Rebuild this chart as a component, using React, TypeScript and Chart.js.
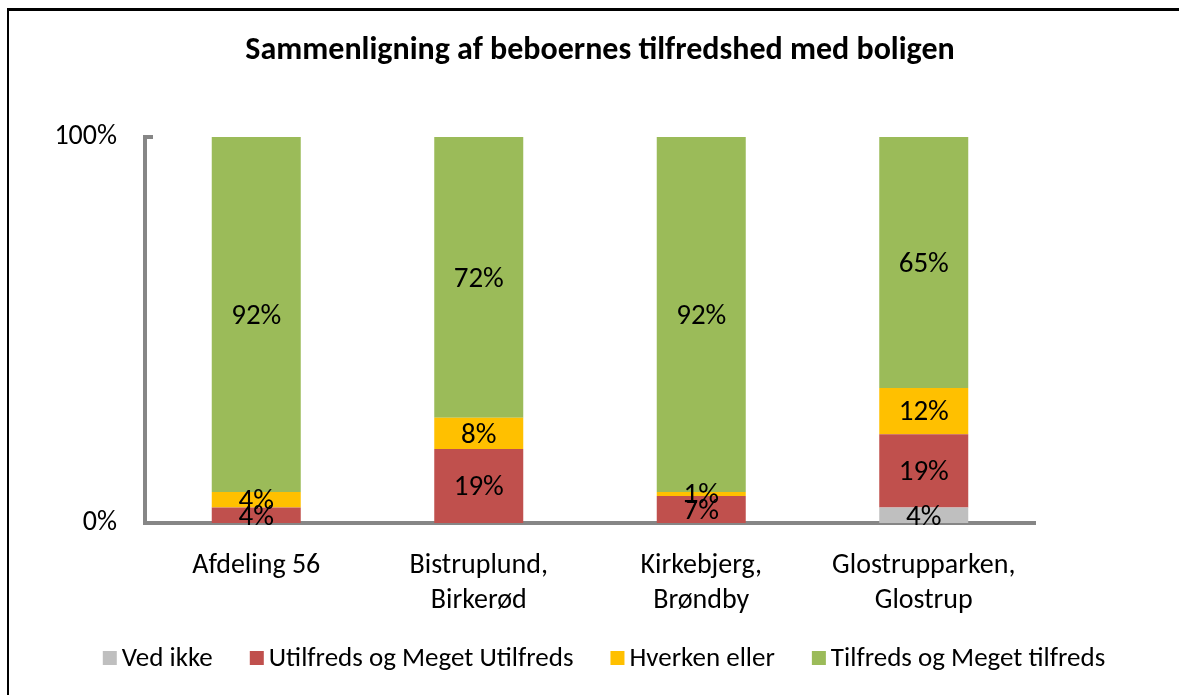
import React, { useEffect, useRef } from "react";
import { Chart, registerables } from "chart.js";

Chart.register(...registerables);

const categories: string[][] = [
  ["Afdeling 56"],
  ["Bistruplund,", "Birkerød"],
  ["Kirkebjerg,", "Brøndby"],
  ["Glostrupparken,", "Glostrup"],
];
const seriesNames = [
  "Ved ikke",
  "Utilfreds og Meget Utilfreds",
  "Hverken eller",
  "Tilfreds og Meget tilfreds",
];
const vedIkke = [0, 0, 0, 4];
const utilfreds = [4, 19, 7, 19];
const hverken = [4, 8, 1, 12];
const tilfreds = [92, 72, 92, 65];
const yTicks = [0, 100];
const titleText = "Sammenligning af beboernes tilfredshed med boligen";

const seriesColors = ["#BFBFBF", "#C0504D", "#FFC000", "#9BBB59"];
const FONT = "Carlito, Lato, 'Open Sans', sans-serif";
const W = 1179;
const H = 695;

const rawSeries = [vedIkke, utilfreds, hverken, tilfreds];
const totals = categories.map((_, j) =>
  rawSeries.reduce((s, arr) => s + arr[j], 0)
);

const decor = {
  id: "decor",
  beforeDraw(chart: any) {
    const ctx = chart.ctx;
    ctx.save();
    ctx.fillStyle = "#ffffff";
    ctx.fillRect(0, 0, W, H);
    ctx.restore();
  },
  afterDraw(chart: any) {
    const ctx = chart.ctx;
    ctx.save();
    // frame
    ctx.fillStyle = "#000000";
    ctx.fillRect(7, 8, W - 7, 3);
    ctx.fillRect(7, 8, 2, H - 8);

    // title
    ctx.font = `bold 32px ${FONT}`;
    ctx.textAlign = "center";
    ctx.textBaseline = "middle";
    ctx.fillStyle = "#000000";
    ctx.fillText(titleText, 600, 51);

    // inward tick mark at top of y axis
    const yScale = chart.scales.y;
    const area = chart.chartArea;
    ctx.fillStyle = "#868686";
    const yt = yScale.getPixelForValue(100);
    ctx.fillRect(area.left - 2, yt - 2, 10, 4);

    // data labels
    ctx.font = `29px ${FONT}`;
    ctx.fillStyle = "#000000";
    ctx.textAlign = "center";
    ctx.textBaseline = "middle";
    rawSeries.forEach((arr, i) => {
      const meta = chart.getDatasetMeta(i);
      meta.data.forEach((bar: any, j: number) => {
        const raw = arr[j];
        if (!raw) return;
        const p = bar.getProps(["x", "y", "base"], true);
        ctx.fillText(raw + "%", p.x, (p.y + p.base) / 2 + 2);
      });
    });

    // legend
    ctx.font = `27px ${FONT}`;
    const box = 14;
    const boxGap = 5;
    const itemGap = 37;
    const widths = seriesNames.map((n) => ctx.measureText(n).width);
    const total =
      widths.reduce((s, w) => s + w + box + boxGap, 0) +
      itemGap * (seriesNames.length - 1);
    let x = 604 - total / 2;
    const ly = 658;
    ctx.textAlign = "left";
    ctx.textBaseline = "middle";
    seriesNames.forEach((n, i) => {
      ctx.fillStyle = seriesColors[i];
      ctx.fillRect(x, ly - box / 2, box, box);
      ctx.fillStyle = "#000000";
      ctx.fillText(n, x + box + boxGap, ly + 1);
      x += box + boxGap + widths[i] + itemGap;
    });
    ctx.restore();
  },
};

export default function App() {
  const ref = useRef<HTMLCanvasElement | null>(null);
  useEffect(() => {
    if (!ref.current) return;
    const chart = new Chart(ref.current, {
      type: "bar",
      data: {
        labels: categories,
        datasets: rawSeries.map((arr, i) => ({
          label: seriesNames[i],
          data: arr.map((v, j) => (v / totals[j]) * 100),
          backgroundColor: seriesColors[i],
          borderWidth: 0,
          barPercentage: 0.4,
          categoryPercentage: 1,
        })),
      },
      options: {
        responsive: false,
        animation: false,
        devicePixelRatio: 1,
        layout: { padding: { top: 137, right: 144, left: 0, bottom: 0 } },
        plugins: {
          legend: { display: false },
          title: { display: false },
          tooltip: { enabled: false },
        },
        scales: {
          x: {
            stacked: true,
            grid: { display: false, drawTicks: false },
            border: { display: true, color: "#868686", width: 4 },
            ticks: {
              color: "#000000",
              font: { family: FONT, size: 28, lineHeight: 1.25 },
              padding: 25,
              maxRotation: 0,
              autoSkip: false,
            },
            afterFit: (scale: any) => {
              scale.height = 172;
            },
          },
          y: {
            stacked: true,
            min: 0,
            max: 100,
            afterBuildTicks: (scale: any) => {
              scale.ticks = yTicks.map((v) => ({ value: v }));
            },
            grid: { display: false, drawTicks: false },
            border: { display: true, color: "#868686", width: 4 },
            ticks: {
              color: "#000000",
              font: { family: FONT, size: 28 },
              padding: 28,
              callback: (v: any) => v + "%",
            },
            afterFit: (scale: any) => {
              scale.width = 145;
            },
          },
        },
      },
      plugins: [decor],
    });
    return () => chart.destroy();
  }, []);
  return (
    <div style={{ position: "absolute", left: 0, top: 0, width: W, height: H, background: "#fff" }}>
      <canvas ref={ref} width={W} height={H} style={{ display: "block", width: W, height: H }} />
    </div>
  );
}
